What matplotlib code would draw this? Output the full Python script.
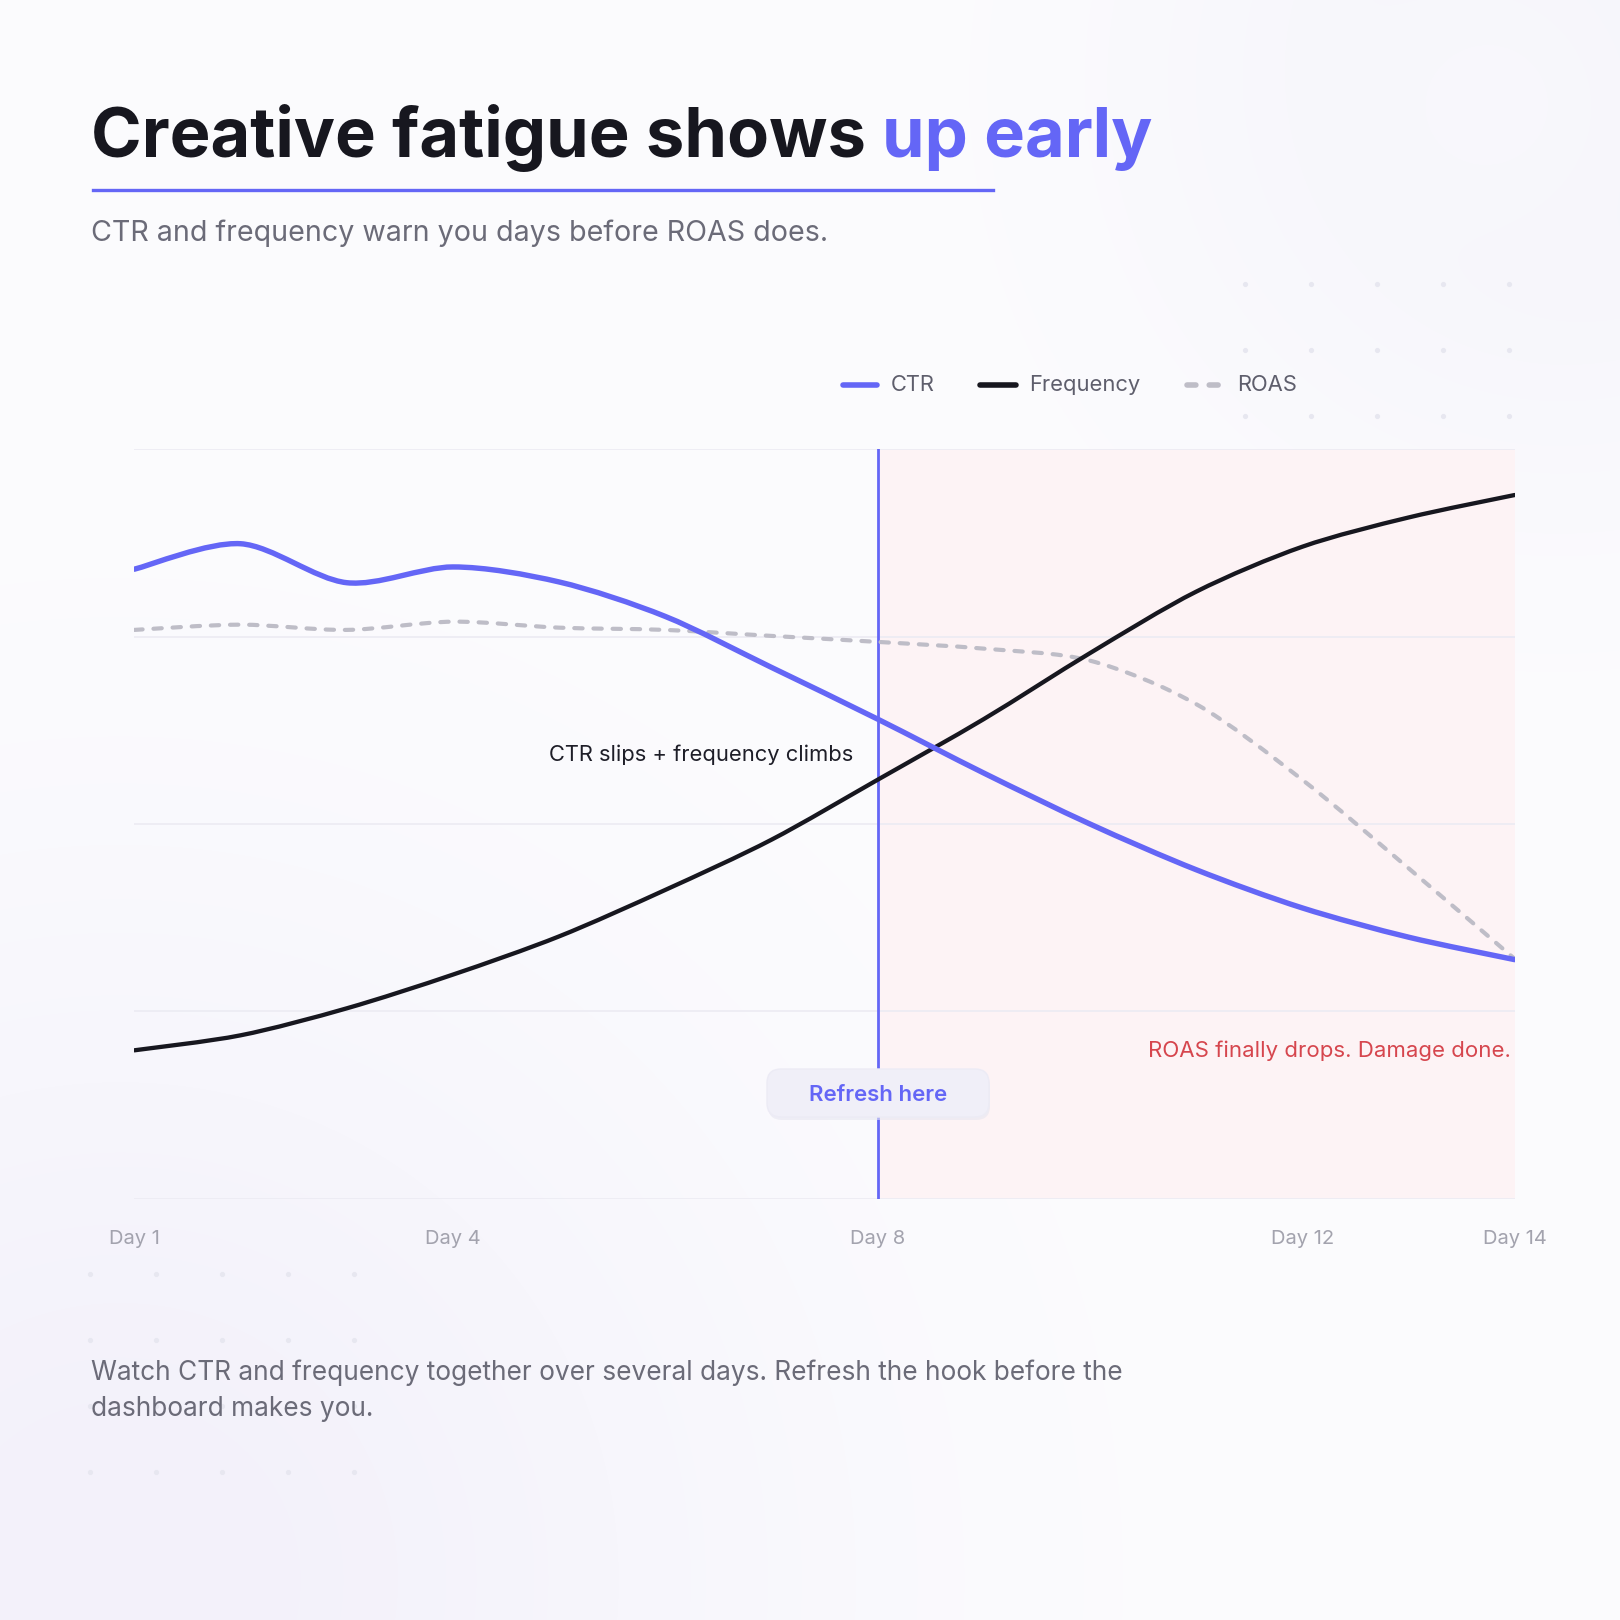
import numpy as np
import matplotlib
matplotlib.use("Agg")
import matplotlib.pyplot as plt
from matplotlib.path import Path
from matplotlib.patches import PathPatch, FancyBboxPatch
from matplotlib.lines import Line2D

# ---------------- data ----------------
days = [1, 2, 3, 4, 5, 6, 7, 8, 9, 10, 11, 12, 13, 14]
ctr = [84.0, 87.4, 82.2, 84.3, 82.3, 77.7, 70.9, 64.0, 56.8, 50.0, 43.9, 38.8, 34.9, 31.9]
frequency = [19.8, 21.8, 25.4, 29.9, 35.0, 41.2, 47.9, 55.9, 64.0, 72.8, 81.0, 87.0, 90.9, 93.9]
roas = [75.9, 76.6, 75.9, 77.0, 76.2, 75.9, 75.1, 74.3, 73.4, 71.8, 66.0, 55.9, 44.1, 32.0]
tick_days = [1, 4, 8, 12, 14]
tick_labels = ["Day 1", "Day 4", "Day 8", "Day 12", "Day 14"]
refresh_day = 8

title_dark = "Creative fatigue shows "
title_accent = "up early"
subtitle = "CTR and frequency warn you days before ROAS does."
footer = ("Watch CTR and frequency together over several days. Refresh the hook before the\n"
          "dashboard makes you.")
note_mid = "CTR slips + frequency climbs"
note_late = "ROAS finally drops. Damage done."
button_text = "Refresh here"

# ---------------- style ----------------
W = H = 1620
ACCENT = "#6466F6"
DARK = "#17171F"
SUB = "#6B6B78"
LEG = "#5E5E6C"
TICK = "#A3A3AE"
ROAS_C = "#BEBDC7"
PINK = "#FDF3F5"
GRID = "#ECEBF3"
RED = "#D6464E"
FONT = ["Inter", "DejaVu Sans"]
plt.rcParams["font.family"] = FONT

fig = plt.figure(figsize=(W / 100, H / 100), dpi=100)

def fx(x):
    return x / W

def fy(y):
    return 1 - y / H

# background
bg_ax = fig.add_axes([0, 0, 1, 1], zorder=-10)
yy, xx = np.mgrid[0:H, 0:W].astype(float)
img = np.ones((H, W, 3)) * np.array([252, 252, 254]) / 255.0
def tint(cx, cy, r, col, strength):
    global img
    d = np.sqrt((xx - cx) ** 2 + (yy - cy) ** 2)
    w = np.exp(-(d / r) ** 2) * strength
    img = img * (1 - w[..., None]) + np.array(col)[None, None, :] / 255.0 * w[..., None]
tint(120, 1580, 650, (242, 240, 250), 0.9)
tint(1560, 80, 420, (244, 243, 250), 0.8)
tint(1500, 100, 150, (250, 250, 253), 0.6)
bg_ax.imshow(img, extent=[0, W, H, 0], aspect="auto", interpolation="bilinear")
bg_ax.set_xlim(0, W)
bg_ax.set_ylim(H, 0)
bg_ax.axis("off")

# dot grids
for xs, ys in [([1245, 1311, 1377, 1443, 1509], [284, 350, 416, 482, 549, 615]),
               ([90, 156, 222, 288, 354], [1274, 1340, 1406, 1472])]:
    gx, gy = np.meshgrid(xs, ys)
    bg_ax.scatter(gx.ravel(), gy.ravel(), s=14, color="#E7E7F0", linewidths=0, zorder=2)

# ---------------- plot axes ----------------
L, R, T, B = 134.3, 1514.7, 449.3, 1198.7
ax = fig.add_axes([fx(L), fy(B), (R - L) / W, (B - T) / H])
ax.set_facecolor("none")
ax.set_xlim(days[0], days[-1])
ax.set_ylim(0, 100)
for s in ax.spines.values():
    s.set_visible(False)
ax.set_yticks([])
ax.set_xticks(tick_days)
ax.set_xticklabels(tick_labels, fontsize=14.5, color=TICK)
ax.tick_params(axis="x", length=0, pad=22.5)

for g in [0, 25, 50, 75, 100]:
    ax.axhline(g, color=GRID, lw=1.2, zorder=1)

ax.axvspan(refresh_day, days[-1], ymin=0, ymax=1, color=PINK, zorder=0, lw=0)
ax.axvline(refresh_day, color=ACCENT, lw=2.0, zorder=2)

def spline_patch(xv, yv, t=0.15, **kw):
    P = np.column_stack([xv, yv]).astype(float)
    n = len(P)
    verts = [tuple(P[0])]
    codes = [Path.MOVETO]
    for i in range(n - 1):
        prv = P[i - 1] if i > 0 else P[i]
        nx2 = P[i + 2] if i + 2 < n else P[i + 1]
        c1 = P[i] + t * (P[i + 1] - prv)
        c2 = P[i + 1] - t * (nx2 - P[i])
        verts += [tuple(c1), tuple(c2), tuple(P[i + 1])]
        codes += [Path.CURVE4] * 3
    return PathPatch(Path(verts, codes), fill=False, transform=ax.transData, **kw)

ax.add_patch(spline_patch(days, roas, lw=3.0, edgecolor=ROAS_C, linestyle=(0, (2.0, 2.6)),
                          capstyle="round", joinstyle="round", zorder=3))
ax.add_patch(spline_patch(days, frequency, lw=3.1, edgecolor=DARK, capstyle="round",
                          joinstyle="round", zorder=4))
ax.add_patch(spline_patch(days, ctr, lw=3.9, edgecolor=ACCENT, capstyle="round",
                          joinstyle="round", zorder=5))

ax.text(7.77, 59.3, note_mid, ha="right", va="center", fontsize=15.8, color="#1E1E28", zorder=6)
ax.text(13.96, 19.7, note_late, ha="right", va="center", fontsize=16, color=RED, zorder=6)

# refresh button (figure pixels)
bx0, by0, bw, bh = 767, 1069, 222, 48
fig.patches.append(FancyBboxPatch((fx(bx0 + 1), fy(by0 + bh + 3)), bw / W, bh / H,
                                  boxstyle="round,pad=0,rounding_size=%f" % (14 / W),
                                  transform=fig.transFigure, facecolor="#E6E6F0",
                                  edgecolor="none", alpha=0.6, zorder=5))
fig.patches.append(FancyBboxPatch((fx(bx0), fy(by0 + bh)), bw / W, bh / H,
                                  boxstyle="round,pad=0,rounding_size=%f" % (14 / W),
                                  transform=fig.transFigure, facecolor="#F0EFF8",
                                  edgecolor="#ECEBF5", lw=1, zorder=6))
fig.text(fx(bx0 + bw / 2), fy(by0 + bh / 2 + 2), button_text, ha="center", va="center",
         fontsize=16, color=ACCENT, fontweight="semibold", zorder=7)

# ---------------- titles ----------------
renderer = fig.canvas.get_renderer()

def fit(text_obj, target_w):
    w = text_obj.get_window_extent(renderer).width
    text_obj.set_fontsize(text_obj.get_fontsize() * target_w / w)

t1 = fig.text(fx(91), fy(157), title_dark, fontsize=56, fontweight="bold", color=DARK,
              va="baseline", ha="left")
t2 = fig.text(0, fy(157), title_accent, fontsize=56, fontweight="bold", color=ACCENT,
              va="baseline", ha="left")
w1 = t1.get_window_extent(renderer).width
w2 = t2.get_window_extent(renderer).width
scale = 1063 / (w1 + w2)
t1.set_fontsize(56 * scale)
t2.set_fontsize(56 * scale)
w1 = t1.get_window_extent(renderer).width
t2.set_x(fx(91 + w1))

fig.add_artist(Line2D([fx(93), fx(993)], [fy(190), fy(190)], color=ACCENT, lw=2.4,
                      transform=fig.transFigure))

st = fig.text(fx(91), fy(241), subtitle, fontsize=21, color=SUB, va="baseline", ha="left")
fit(st, 736)

ft = fig.text(fx(91), fy(1379), footer, fontsize=19, color=SUB, va="baseline", ha="left",
              linespacing=1.5)
tmp = fig.text(0, 0, footer.split("\n")[0], fontsize=19)
wl = tmp.get_window_extent(renderer).width
tmp.remove()
fs_f = 19 * 1031 / wl
ft.set_fontsize(fs_f)
ft.set_va("top")
ft.set_y(fy(1379 - fs_f * 1.389 * 0.74))

# ---------------- legend (figure pixels) ----------------
ly = 385
fig.add_artist(Line2D([fx(843), fx(877)], [fy(ly), fy(ly)], color=ACCENT, lw=4,
                      solid_capstyle="round", transform=fig.transFigure))
fig.add_artist(Line2D([fx(980), fx(1016)], [fy(ly), fy(ly)], color=DARK, lw=4,
                      solid_capstyle="round", transform=fig.transFigure))
fig.add_artist(Line2D([fx(1187), fx(1223)], [fy(ly), fy(ly)], color=ROAS_C, lw=4,
                      linestyle=(0, (1.6, 2.4)), dash_capstyle="round",
                      transform=fig.transFigure))
for xt, lab in [(891, "CTR"), (1029, "Frequency"), (1237, "ROAS")]:
    fig.text(fx(xt), fy(ly), lab, fontsize=15.8, color=LEG, va="center", ha="left")

fig.savefig("out.png", dpi=100)
